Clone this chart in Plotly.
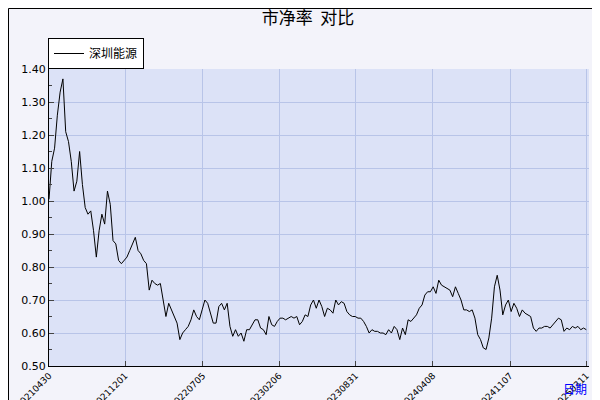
import plotly.graph_objects as go

# 深圳能源 市净率 (roughly one point per 3 px)
pb_part1 = [1.005, 1.12, 1.16, 1.26, 1.33, 1.37, 1.21, 1.18, 1.12, 1.03, 1.06, 1.15, 1.05, 0.98,
            0.96, 0.97, 0.91, 0.83, 0.91, 0.96, 0.93, 1.03, 0.99, 0.88, 0.87, 0.82, 0.81, 0.82,
            0.83, 0.85, 0.87, 0.89, 0.85, 0.84, 0.82, 0.81, 0.73, 0.76, 0.75, 0.745, 0.75, 0.70,
            0.65, 0.69, 0.67, 0.65, 0.63, 0.58, 0.60, 0.61, 0.62, 0.64, 0.67, 0.65, 0.64, 0.67,
            0.70, 0.69, 0.66, 0.63, 0.63, 0.68, 0.69, 0.67, 0.69, 0.62, 0.59, 0.61, 0.59, 0.60]
pb_part2 = [0.575, 0.61, 0.61, 0.625, 0.64, 0.64, 0.615, 0.61, 0.595, 0.65, 0.625, 0.62, 0.635,
            0.645, 0.645, 0.64, 0.645, 0.65, 0.645, 0.65, 0.625, 0.635, 0.655, 0.65, 0.685, 0.70,
            0.675, 0.70, 0.68, 0.65, 0.675, 0.67, 0.66, 0.70, 0.685, 0.695, 0.69, 0.665, 0.655,
            0.65, 0.65, 0.645, 0.645, 0.635, 0.62, 0.60, 0.61, 0.605, 0.605, 0.60, 0.60, 0.595,
            0.61, 0.60, 0.62, 0.61, 0.58, 0.615, 0.595, 0.64, 0.635, 0.645, 0.655, 0.675, 0.685,
            0.715, 0.725, 0.725]
pb_part3 = [0.74, 0.72, 0.76, 0.745, 0.74, 0.735, 0.73, 0.71, 0.74, 0.72, 0.70, 0.67, 0.67,
            0.665, 0.67, 0.645, 0.595, 0.58, 0.555, 0.55, 0.585, 0.645, 0.74, 0.775, 0.73, 0.655,
            0.685, 0.70, 0.665, 0.69, 0.675, 0.65, 0.67, 0.66, 0.655, 0.65, 0.615, 0.605, 0.615,
            0.615, 0.62, 0.62, 0.615, 0.625, 0.635, 0.645, 0.64, 0.605, 0.615, 0.61, 0.62, 0.615,
            0.62, 0.61, 0.615, 0.61]
pb = pb_part1 + pb_part2 + pb_part3

tick_labels = ["20210430", "20211201", "20220705", "20230206",
               "20230831", "20240408", "20241107", "20250311"]
tick_frac = [0, 0.141, 0.285, 0.426, 0.568, 0.711, 0.854, 0.995]

n = len(pb)
fig = go.Figure()
fig.add_trace(go.Scatter(x=list(range(n)), y=pb, mode="lines", name="深圳能源",
                         line=dict(color="black", width=1)))

# plot area is 540 x 297 px, starting at (41, 61)
def px(x):
    return (x - 41) / 540

def py(y):
    return (358 - y) / 297

fig.update_layout(
    width=600, height=400,
    margin=dict(l=41, r=19, t=61, b=42, autoexpand=False),
    paper_bgcolor="#f3f3fa", plot_bgcolor="#dce2f7",
    font=dict(family="DejaVu Sans", size=11, color="black"),
    title=dict(text="市净率  对比", x=0.5, y=0.99, yref="container", xanchor="center",
               yanchor="top", font=dict(size=17, family="Noto Sans CJK SC")),
    showlegend=True,
    legend=dict(x=px(40), y=py(30), xanchor="left", yanchor="top", bgcolor="white",
                bordercolor="black", borderwidth=1, itemwidth=30,
                font=dict(size=12, family="Noto Sans CJK SC")),
    xaxis=dict(range=[0, (n - 1) / 0.995], tickvals=[f * (n - 1) / 0.995 for f in tick_frac],
               ticktext=tick_labels, tickangle=-45, tickfont=dict(size=9),
               showgrid=True, gridcolor="#b8c4e8", showline=True, linecolor="black",
               ticks="inside", ticklen=5, zeroline=False),
    yaxis=dict(range=[0.5, 1.4], dtick=0.1, tickformat=".2f", showgrid=True,
               gridcolor="#b8c4e8", showline=True, linecolor="black", ticks="inside",
               ticklen=5, zeroline=False, minor=dict(dtick=0.05, ticks="inside", ticklen=3)),
    shapes=[
        # shadow and outer frame
        dict(type="rect", xref="paper", yref="paper", x0=px(594), x1=px(600), y0=py(400),
             y1=py(6), fillcolor="#666666", line=dict(width=0), layer="below"),
        dict(type="rect", xref="paper", yref="paper", x0=px(6), x1=px(600), y0=py(400),
             y1=py(394), fillcolor="#666666", line=dict(width=0), layer="below"),
        dict(type="rect", xref="paper", yref="paper", x0=px(0.5), x1=px(593.5), y0=py(393.5),
             y1=py(0.5), line=dict(color="black", width=1), layer="below"),
        # legend shadow
        dict(type="rect", xref="paper", yref="paper", x0=px(43), x1=px(129), y0=py(57),
             y1=py(33), fillcolor="#bbbbbb", line=dict(width=0), layer="below"),
    ],
    annotations=[
        dict(text="日期", x=px(581), y=py(370), xref="paper", yref="paper", showarrow=False,
             xanchor="right", yanchor="top", font=dict(color="blue", size=12,
                                                         family="Noto Sans CJK SC")),
    ],
)

fig.write_html("out.html")
